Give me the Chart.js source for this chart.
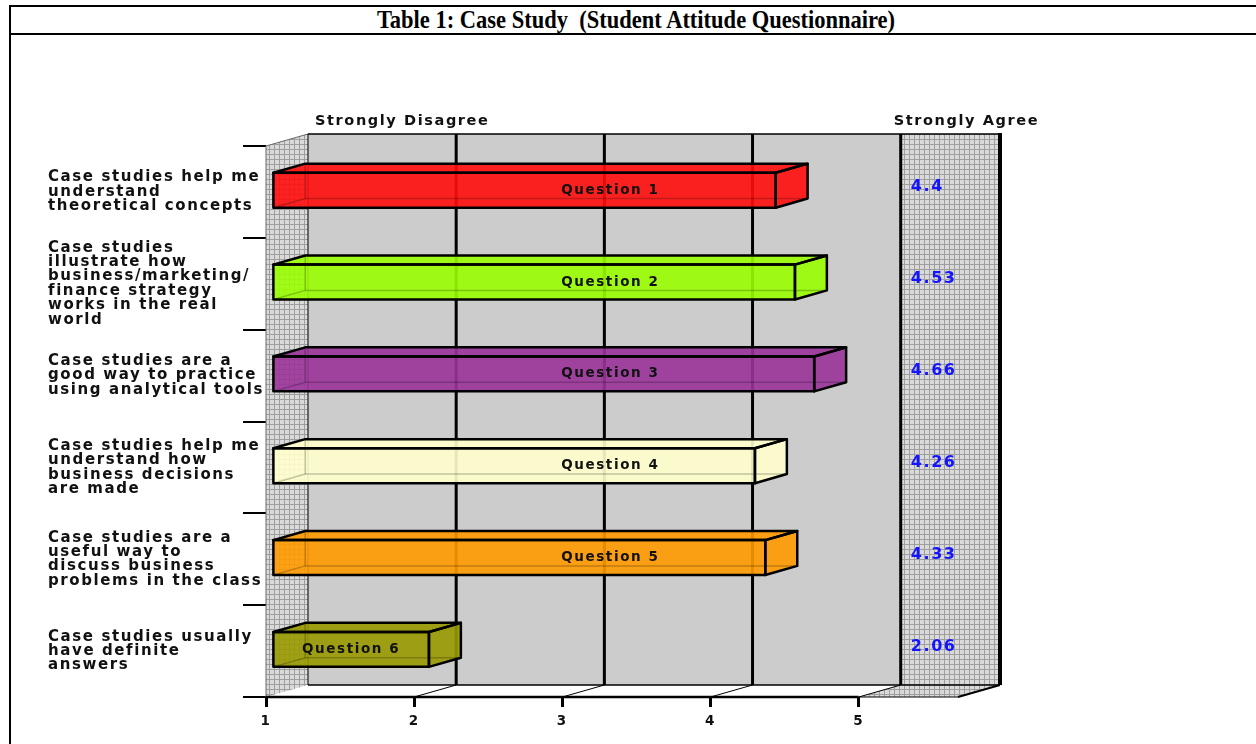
<!DOCTYPE html>
<html>
<head>
<meta charset="utf-8">
<title>Case Study - Student Attitude Questionnaire</title>
<script src="https://cdn.jsdelivr.net/npm/chart.js@4.4.1/dist/chart.umd.min.js"></script>
<style>
  html, body { margin: 0; padding: 0; background: #fff; }
  #page { position: relative; width: 1256px; height: 744px; overflow: hidden; }
  #frame { position: absolute; left: 9px; top: 5px; width: 1280px; height: 780px;
           border-left: 2px solid #000; border-top: 2px solid #000; }
  #rule { position: absolute; left: 9px; top: 33px; width: 1280px; border-top: 2px solid #000; }
  #title { position: absolute; left: 0; top: 7px; width: 1272px; text-align: center;
           font: bold 22.5px "Liberation Serif", "Times New Roman", serif; white-space: pre; color: #000;
           transform: scaleY(1.08); transform-origin: 50% 50%; }
  #holder { position: absolute; left: 0; top: 0; width: 1256px; height: 744px; }
</style>
</head>
<body>
<div id="page">
  <div id="frame"></div>
  <div id="rule"></div>
  <div id="title">Table 1: Case Study  (Student Attitude Questionnaire)</div>
  <div id="holder"><canvas id="chart" width="1256" height="744"></canvas></div>
</div>
<script>
// Survey statements (one line per array entry)
const statements = [
  ['Case studies help me', 'understand', 'theoretical concepts'],
  ['Case studies', 'illustrate how', 'business/marketing/', 'finance strategy', 'works in the real', 'world'],
  ['Case studies are a', 'good way to practice', 'using analytical tools'],
  ['Case studies help me', 'understand how', 'business decisions', 'are made'],
  ['Case studies are a', 'useful way to', 'discuss business', 'problems in the class'],
  ['Case studies usually', 'have definite', 'answers']
];
const questions = ['Question 1', 'Question 2', 'Question 3', 'Question 4', 'Question 5', 'Question 6'];
const meanScores = [4.4, 4.53, 4.66, 4.26, 4.33, 2.06];
const barColors = ['#ff0d0d', '#99ff00', '#993399', '#ffffcc', '#ff9900', '#999900'];
const scaleTicks = [1, 2, 3, 4, 5];
const scaleEnds = ['Strongly Disagree', 'Strongly Agree'];

// Oblique depth of the box and where the bars sit inside it
const DEPTH = { dx: 42, dy: -12 };
const BAR_FRONT = 0.14, BAR_BACK = 0.9;
const FONT = 'DejaVu Sans';
const INK = '#111';

function gridPattern(ctx) {
  const c = document.createElement('canvas');
  c.width = 5; c.height = 5;
  const g = c.getContext('2d');
  g.fillStyle = '#dadada'; g.fillRect(0, 0, 5, 5);
  g.fillStyle = '#9e9e9e'; g.fillRect(4, 0, 1, 5); g.fillRect(0, 4, 5, 1);
  return ctx.createPattern(c, 'repeat');
}
function poly(ctx, pts) {
  ctx.beginPath();
  ctx.moveTo(pts[0][0], pts[0][1]);
  for (let k = 1; k < pts.length; k++) ctx.lineTo(pts[k][0], pts[k][1]);
  ctx.closePath();
}
function line(ctx, x1, y1, x2, y2, w, c) {
  ctx.beginPath(); ctx.moveTo(x1, y1); ctx.lineTo(x2, y2);
  ctx.lineWidth = w; ctx.strokeStyle = c; ctx.stroke();
}

const boxPlugin = {
  id: 'box3d',
  beforeDraw(chart) {
    chart.ctx.letterSpacing = '1.6px';
  },
  beforeDatasetsDraw(chart) {
    const ctx = chart.ctx;
    const { top: T, bottom: B } = chart.chartArea;
    const xs = chart.scales.x;
    const X1 = xs.getPixelForValue(scaleTicks[0]);
    const X5 = xs.getPixelForValue(scaleTicks[scaleTicks.length - 1]);
    const XM = xs.getPixelForValue(xs.max);
    const { dx, dy } = DEPTH;
    const pat = gridPattern(ctx);
    ctx.save();
    // back wall and label panel
    ctx.fillStyle = '#cccccc';
    ctx.fillRect(X1 + dx, T + dy, X5 - X1, B - T);
    ctx.fillStyle = pat;
    ctx.fillRect(X5 + dx, T + dy, XM - X5, B - T);
    // left side wall
    poly(ctx, [[X1, T], [X1 + dx, T + dy], [X1 + dx, B + dy], [X1, B]]);
    ctx.fill();
    // floor under the label panel
    poly(ctx, [[X5, B], [XM, B], [XM + dx, B + dy], [X5 + dx, B + dy]]);
    ctx.fill();
    // wall outlines
    line(ctx, X1, T, X1, B, 1, '#666');
    line(ctx, X1, T, X1 + dx, T + dy, 1, '#666');
    line(ctx, X1 + dx, T + dy, X1 + dx, B + dy, 1.2, '#222');
    line(ctx, X1 + dx, T + dy, XM + dx, T + dy, 1.5, '#000');
    line(ctx, X1 + dx, B + dy, XM + dx, B + dy, 1.5, '#000');
    // gridlines on the back wall and their floor traces
    scaleTicks.slice(1).forEach(v => {
      const px = xs.getPixelForValue(v);
      line(ctx, px + dx, T + dy, px + dx, B + dy, 3, '#000');
      line(ctx, px, B, px + dx, B + dy, 1, '#000');
    });
    line(ctx, XM + dx, T + dy - 1, XM + dx, B + dy, 4, '#000');
    line(ctx, XM, B, XM + dx, B + dy, 2, '#000');
    // front floor edge
    line(ctx, X1, B, X5, B, 2.5, '#000');
    line(ctx, X5, B, XM, B, 1, '#000');
    // scale end captions
    ctx.fillStyle = INK;
    ctx.font = 'bold 14.5px "' + FONT + '"';
    ctx.textBaseline = 'middle';
    ctx.textAlign = 'left';
    ctx.fillText(scaleEnds[0], X1 + dx + 7, T + dy - 13);
    ctx.fillText(scaleEnds[1], X5 + dx - 7, T + dy - 13);
    ctx.restore();
  },
  beforeDatasetDraw() {
    return false;
  },
  afterDatasetsDraw(chart) {
    const ctx = chart.ctx;
    const xs = chart.scales.x;
    const X1 = xs.getPixelForValue(scaleTicks[0]);
    const X5 = xs.getPixelForValue(scaleTicks[scaleTicks.length - 1]);
    const { dx, dy } = DEPTH;
    const fx = dx * BAR_FRONT, fy = dy * BAR_FRONT;
    const ox = dx * (BAR_BACK - BAR_FRONT), oy = dy * (BAR_BACK - BAR_FRONT);
    const wallMid = (X1 + X5) / 2 + dx;
    const meta = chart.getDatasetMeta(0);
    ctx.save();
    meta.data.forEach((bar, i) => {
      const p = bar.getProps(['x', 'y', 'base', 'height'], true);
      const l = p.base + fx, r = p.x + fx;
      const t = p.y - p.height / 2 + fy, b = p.y + p.height / 2 + fy;
      const front = [[l, t], [r, t], [r, b], [l, b]];
      const topFace = [[l, t], [r, t], [r + ox, t + oy], [l + ox, t + oy]];
      const side = [[r, t], [r + ox, t + oy], [r + ox, b + oy], [r, b]];
      // translucent faces
      ctx.globalAlpha = 0.9;
      ctx.fillStyle = barColors[i];
      [front, topFace, side].forEach(f => { poly(ctx, f); ctx.fill(); });
      ctx.globalAlpha = 1;
      // hidden edges seen through the faces
      line(ctx, l, b, l + ox, b + oy, 1.5, 'rgba(0,0,0,0.22)');
      line(ctx, l + ox, b + oy, r + ox, b + oy, 1.5, 'rgba(0,0,0,0.22)');
      line(ctx, l + ox, t + oy, l + ox, b + oy, 1.5, 'rgba(0,0,0,0.22)');
      // visible edges
      ctx.lineJoin = 'round';
      ctx.lineWidth = 2.5;
      ctx.strokeStyle = '#000';
      [topFace, side, front].forEach(f => { poly(ctx, f); ctx.stroke(); });
      // bar caption
      ctx.fillStyle = INK;
      ctx.font = 'bold 13.5px "' + FONT + '"';
      ctx.textAlign = 'center';
      ctx.textBaseline = 'middle';
      const cx = (r - 70 > wallMid) ? wallMid + 6 : (l + r) / 2;
      ctx.fillText(questions[i], cx, (t + b) / 2);
      // mean score in the label panel
      ctx.fillStyle = '#1414ff';
      ctx.font = 'bold 16px "' + FONT + '"';
      ctx.textAlign = 'left';
      ctx.fillText(String(meanScores[i]), X5 + dx + 10, (t + b) / 2 - 3);
    });
    ctx.restore();
  }
};

new Chart(document.getElementById('chart'), {
  type: 'bar',
  data: {
    labels: statements,
    datasets: [{
      data: meanScores,
      base: scaleTicks[0],
      backgroundColor: barColors,
      borderWidth: 0,
      barPercentage: 0.38,
      categoryPercentage: 1
    }]
  },
  options: {
    indexAxis: 'y',
    responsive: false,
    animation: false,
    devicePixelRatio: 1,
    layout: { padding: { left: 48, top: 146, right: 298, bottom: 0 } },
    plugins: { legend: { display: false }, tooltip: { enabled: false }, title: { display: false } },
    scales: {
      x: {
        type: 'linear',
        min: 1,
        max: 5.67,
        afterBuildTicks: s => { s.ticks = scaleTicks.map(v => ({ value: v })); },
        afterFit: s => { s.height = 47; },
        border: { display: false },
        grid: { drawOnChartArea: false, drawTicks: true, tickLength: 10, lineWidth: 3, color: '#000' },
        ticks: { padding: 6, color: INK, font: { family: FONT, weight: 'bold', size: 13.5 } }
      },
      y: {
        afterFit: s => { s.width = 218; },
        border: { display: false },
        grid: { drawOnChartArea: false, drawTicks: true, tickLength: 23, lineWidth: 2, color: '#000', offset: true },
        ticks: { crossAlign: 'far', padding: 0, color: INK,
                 font: { family: FONT, weight: 'bold', size: 15, lineHeight: 0.96 } }
      }
    }
  },
  plugins: [boxPlugin]
});
</script>
</body>
</html>
